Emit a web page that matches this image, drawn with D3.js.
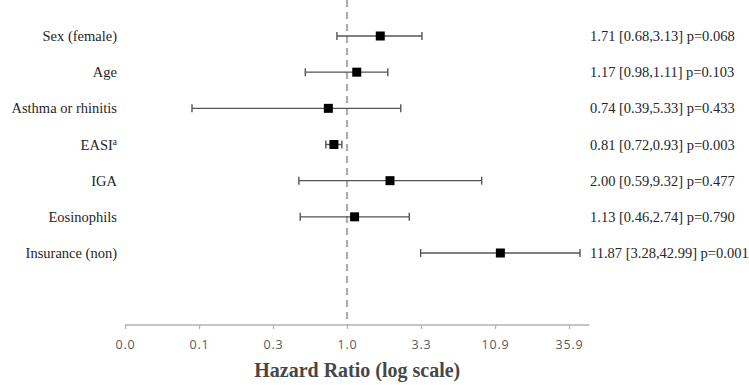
<!DOCTYPE html>
<html>
<head>
<meta charset="utf-8">
<script src="https://cdn.jsdelivr.net/npm/d3@7"></script>
<style>
  body { margin: 0; background: #fff; }
  svg { display: block; }
</style>
</head>
<body>
<div id="chart"></div>
<script>
const width = 749;
const height = 385;

// rows, top to bottom
const labels = ['Sex (female)', 'Age', 'Asthma or rhinitis', 'EASI', 'IGA', 'Eosinophils', 'Insurance (non)'];
const hr     = [1.71, 1.17, 0.74, 0.81, 2.00, 1.13, 11.87];
// whisker ends as drawn in the figure
const lower  = [0.85, 0.51, 0.082, 0.71, 0.46, 0.47, 3.28];
const upper  = [3.35, 1.93, 2.38, 0.92, 8.78, 2.73, 42.9];
const notes  = ['1.71 [0.68,3.13] p=0.068', '1.17 [0.98,1.11] p=0.103', '0.74 [0.39,5.33] p=0.433',
                '0.81 [0.72,0.93] p=0.003', '2.00 [0.59,9.32] p=0.477', '1.13 [0.46,2.74] p=0.790',
                '11.87 [3.28,42.99] p=0.001'];
const tickValues = [-3, -2, -1, 0, 1, 2, 3].map(k => Math.pow(3.3, k));

const rows = labels.map((label, i) => ({ label, hr: hr[i], lo: lower[i], hi: upper[i], note: notes[i] }));

const svg = d3.select("#chart").append("svg").attr("width", width).attr("height", height);

const x = d3.scaleLog().base(3.3).domain([Math.pow(3.3, -3), 50]).range([125, 589.5]);
const y = d3.scalePoint().domain(labels).range([36, 253]);
const axisY = 325;

const serif = "'Liberation Serif', 'Times New Roman', serif";

// reference line at 1
svg.append("line")
    .attr("x1", x(1)).attr("x2", x(1))
    .attr("y1", 0).attr("y2", axisY)
    .attr("stroke", "#adadad")
    .attr("stroke-width", 2.2)
    .attr("stroke-dasharray", "7,5");

// axis
const axis = svg.append("g").attr("transform", `translate(0,${axisY})`)
    .call(d3.axisBottom(x).tickValues(tickValues).tickFormat(d => d.toFixed(1)).tickSize(4).tickPadding(11));
axis.select(".domain").attr("stroke", "#b3b3b3").attr("stroke-width", 1.3).attr("d", `M${x.range()[0]},0H${x.range()[1]}`);
axis.selectAll(".tick line").attr("stroke", "#b3b3b3").attr("stroke-width", 1.3);
axis.selectAll(".tick text")
    .attr("fill", "#595959")
    .style("font-family", "'Open Sans', sans-serif")
    .style("font-size", "12.5px")
    .style("letter-spacing", "0.8px");

svg.append("text")
    .attr("x", (x.range()[0] + x.range()[1]) / 2)
    .attr("y", 377)
    .attr("text-anchor", "middle")
    .attr("fill", "#474747")
    .style("font-family", serif)
    .style("font-weight", "bold")
    .style("font-size", "20px")
    .text("Hazard Ratio (log scale)");

// rows
const g = svg.selectAll("g.row").data(rows).enter().append("g").attr("class", "row")
    .attr("transform", d => `translate(0,${y(d.label)})`);

g.append("line")
    .attr("x1", d => x(d.lo)).attr("x2", d => x(d.hi))
    .attr("stroke", "#555").attr("stroke-width", 1.4);
g.append("line")
    .attr("x1", d => x(d.lo)).attr("x2", d => x(d.lo))
    .attr("y1", -4).attr("y2", 4)
    .attr("stroke", "#555").attr("stroke-width", 1.4);
g.append("line")
    .attr("x1", d => x(d.hi)).attr("x2", d => x(d.hi))
    .attr("y1", -4).attr("y2", 4)
    .attr("stroke", "#555").attr("stroke-width", 1.4);
g.append("rect")
    .attr("x", d => x(d.hr) - 4.5).attr("y", -4.5)
    .attr("width", 9).attr("height", 9)
    .attr("fill", "#000");

const lab = g.append("text")
    .attr("x", 117).attr("dy", "0.35em")
    .attr("text-anchor", "end")
    .attr("fill", "#262626")
    .style("font-family", serif)
    .style("font-size", "14.5px");
lab.append("tspan").text(d => d.label);
lab.filter(d => d.label === 'EASI').append("tspan")
    .attr("baseline-shift", "super")
    .style("font-size", "9.5px")
    .text("a");

g.append("text")
    .attr("x", 590).attr("dy", "0.35em")
    .attr("fill", "#262626")
    .style("font-family", serif)
    .style("font-size", "14.5px")
    .text(d => d.note);
</script>
</body>
</html>
